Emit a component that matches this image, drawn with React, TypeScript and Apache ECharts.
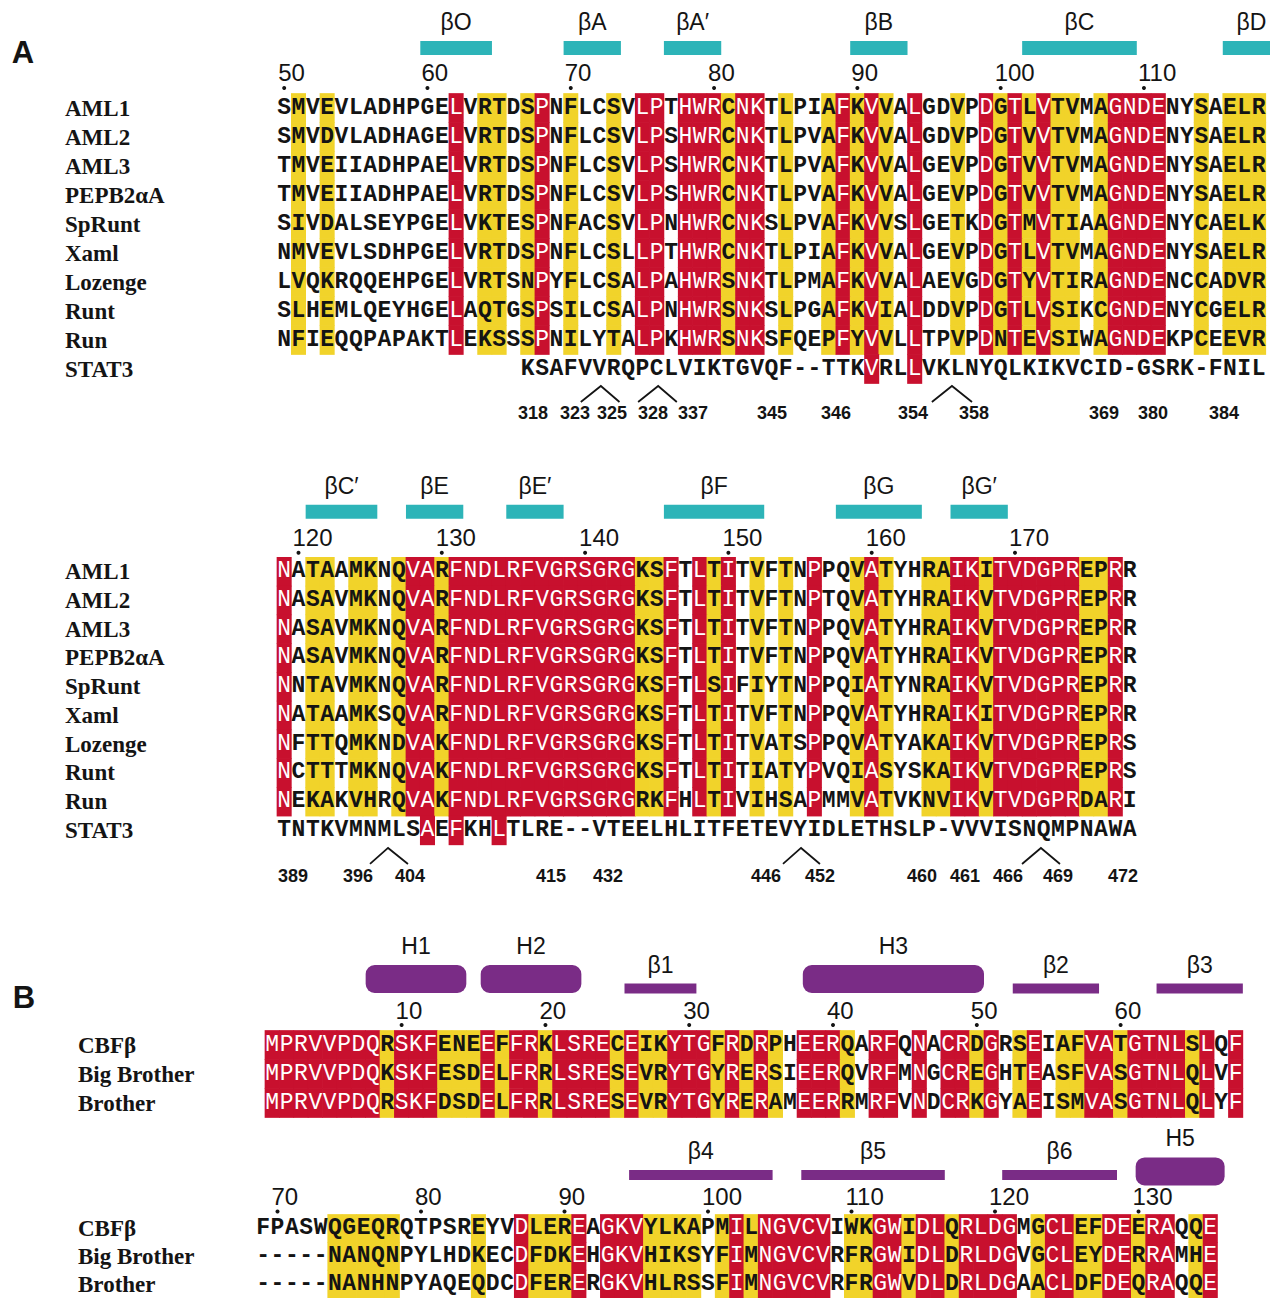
import React, { useEffect, useRef } from "react";
import * as echarts from "echarts";

// ---------------- colours & fonts ----------------
const RED = "#C8102E";
const YELLOW = "#F1D32A";
const CYAN = "#2DB4B8";
const PURPLE = "#7A2C86";
const INK = "#141414";
const MONO = '"Liberation Mono", "DejaVu Sans Mono", monospace';
const SERIF = '"Liberation Serif", "DejaVu Serif", serif';
const SANS = '"Liberation Sans", Arial, sans-serif';

// ---------------- Panel A, block 1 (residues 50-118) ----------------
const namesA = ["AML1", "AML2", "AML3", "PEPB2αA", "SpRunt", "Xaml", "Lozenge", "Runt", "Run", "STAT3"];
const seqA1 = [
  "SMVEVLADHPGELVRTDSPNFLCSVLPTHWRCNKTLPIAFKVVALGDVPDGTLVTVMAGNDENYSAELR",
  "SMVDVLADHAGELVRTDSPNFLCSVLPSHWRCNKTLPVAFKVVALGDVPDGTVVTVMAGNDENYSAELR",
  "TMVEIIADHPAELVRTDSPNFLCSVLPSHWRCNKTLPVAFKVVALGEVPDGTVVTVMAGNDENYSAELR",
  "TMVEIIADHPAELVRTDSPNFLCSVLPSHWRCNKTLPVAFKVVALGEVPDGTVVTVMAGNDENYSAELR",
  "SIVDALSEYPGELVKTESPNFACSVLPNHWRCNKSLPVAFKVVSLGETKDGTMVTIAAGNDENYCAELK",
  "NMVEVLSDHPGELVRTDSPNFLCSLLPTHWRCNKTLPIAFKVVALGEVPDGTLVTVMAGNDENYSAELR",
  "LVQKRQQEHPGELVRTSNPYFLCSALPAHWRSNKTLPMAFKVVALAEVGDGTYVTIRAGNDENCCADVR",
  "SLHEMLQEYHGELAQTGSPSILCSALPNHWRSNKSLPGAFKVIALDDVPDGTLVSIKCGNDENYCGELR",
  "NFIEQQPAPAKTLEKSSSPNILYTALPKHWRSNKSFQEPFYVVLLTPVPDNTEVSIWAGNDEKPCEEVR",
];
// r = identical (red), y = similar (yellow), . = none
const maskA1 = ".y.y......" + "..r.yy.yr." + "y..y.rr.rr" + "ryrr.y..yr" + "yry.r..y.r" + "yryryy.yrr" + "rr..y.yyy";
const firstResA1 = 50;
const ticksA1 = [50, 60, 70, 80, 90, 100, 110];
const ssA1: [string, number, number, string][] = [
  ["βO", 60, 64, "strand"],
  ["βA", 70, 73, "strand"],
  ["βA′", 77, 80, "strand"],
  ["βB", 90, 93, "strand"],
  ["βC", 102, 109, "strand"],
  ["βD", 116, 119, "strand"],
];
const stat3StartA1 = 17;
const stat3SeqA1 = "KSAFVVRQPCLVIKTGVQF--TTKVRLLVKLNYQLKIKVCID-GSRK-FNIL";
const stat3RedA1 = [41, 44];
const stat3NumA1 = ["318", "323", "325", "328", "337", "345", "346", "354", "358", "369", "380", "384"];
const stat3NumPosA1 = [17.86, 20.8, 23.38, 26.24, 29.03, 34.54, 39.01, 44.38, 48.64, 57.71, 61.13, 66.08];
const stat3GapsA1 = [[21.2, 22.6, 23.9], [25.2, 26.6, 27.9], [45.7, 47.1, 48.5]];

// ---------------- Panel A, block 2 (residues 119-178) ----------------
const seqA2 = [
  "NATAAMKNQVARFNDLRFVGRSGRGKSFTLTITVFTNPPQVATYHRAIKITVDGPREPRR",
  "NASAVMKNQVARFNDLRFVGRSGRGKSFTLTITVFTNPTQVATYHRAIKVTVDGPREPRR",
  "NASAVMKNQVARFNDLRFVGRSGRGKSFTLTITVFTNPPQVATYHRAIKVTVDGPREPRR",
  "NASAVMKNQVARFNDLRFVGRSGRGKSFTLTITVFTNPPQVATYHRAIKVTVDGPREPRR",
  "NNTAVMKNQVARFNDLRFVGRSGRGKSFTLSIFIYTNPPQIATYNRAIKVTVDGPREPRR",
  "NATAAMKSQVARFNDLRFVGRSGRGKSFTLTITVFTNPPQVATYHRAIKITVDGPREPRR",
  "NFTTQMKNDVAKFNDLRFVGRSGRGKSFTLTITVATSPPQVATYAKAIKVTVDGPREPRS",
  "NCTTTMKNQVAKFNDLRFVGRSGRGKSFTLTITIATYPVQIASYSKAIKVTVDGPREPRS",
  "NEKAKVHRQVAKFNDLRFVGRSGRGRKFHLTIVIHSAPMMVATVKNVIKVTVDGPRDARI",
];
const maskA2 = "r.yy.yy.yr" + "ryrrrrrrrr" + "rrrrryyr.r" + "yr.y.y.r.." + "yry..yyrry" + "rrrrrryyr.";
const firstResA2 = 119;
const ticksA2 = [120, 130, 140, 150, 160, 170];
const ssA2: [string, number, number, string][] = [
  ["βC′", 121, 125, "strand"],
  ["βE", 128, 131, "strand"],
  ["βE′", 135, 138, "strand"],
  ["βF", 146, 152, "strand"],
  ["βG", 158, 163, "strand"],
  ["βG′", 166, 169, "strand"],
];
const stat3StartA2 = 0;
const stat3SeqA2 = "TNTKVMNMLSAEFKHLTLRE--VTEELHLITFETEVYIDLETHSLP-VVVISNQMPNAWA";
const stat3RedA2 = [10, 12, 15];
const stat3NumA2 = ["389", "396", "404", "415", "432", "446", "452", "460", "461", "466", "469", "472"];
const stat3NumPosA2 = [1.12, 5.65, 9.28, 19.12, 23.1, 34.12, 37.89, 45.01, 48.01, 51.01, 54.5, 59.04];
const stat3GapsA2 = [[6.49, 7.75, 9.14], [35.31, 36.57, 37.89], [51.99, 53.31, 54.64]];

// ---------------- Panel B, block 1 (residues 1-68) ----------------
const namesB = ["CBFβ", "Big Brother", "Brother"];
const seqB1 = [
  "MPRVVPDQRSKFENEEFFRKLSRECEIKYTGFRDRPHEERQARFQNACRDGRSEIAFVATGTNLSLQF",
  "MPRVVPDQKSKFESDELFRRLSRESEVRYTGYRERSIEERQVRFMNGCREGHTEASFVASGTNLQLVF",
  "MPRVVPDQRSKFDSDELFRRLSRESEVRYTGYRERAMEERRMRFVNDCRKGYAEISMVASGTNLQLYF",
];
const maskB1 = "rrrrrrrryr" + "rryyyryrry" + "rrrryryyrr" + "ryryry.rrr" + "y.rr.r.rry" + "r.yr.yyrry" + "rrrryr.r";
const firstResB1 = 1;
const ticksB1 = [10, 20, 30, 40, 50, 60];
const ssB1: [string, number, number, string][] = [
  ["H1", 8, 14, "helix"],
  ["H2", 16, 22, "helix"],
  ["β1", 26, 30, "strand"],
  ["H3", 38.4, 50, "helix"],
  ["β2", 53, 58, "strand"],
  ["β3", 63, 68, "strand"],
];

// ---------------- Panel B, block 2 (residues 69-135) ----------------
const seqB2 = [
  "FPASWQGEQRQTPSREYVDLEREAGKVYLKAPMILNGVCVIWKGWIDLQRLDGMGCLEFDEERAQQE",
  "-----NANQNPYLHDKECDFDKEHGKVHIKSYFIMNGVCVRFRGWIDLDRLDGVGCLEYDERRAMHE",
  "-----NANHNPYAQEQDCDFERERGKVHLRSSFIMNGVCVRFRGWVDLDRLDGAACLDFDEQRAQQE",
];
const maskB2 = ".....yyyyy" + ".....y..ry" + "yyr.rrryyy" + "y.yryrrrrr" + ".yyrryrryr" + "rrr.yrryyr" + "ryrr.yr";
const firstResB2 = 69;
const ticksB2 = [70, 80, 90, 100, 110, 120, 130];
const ssB2: [string, number, number, string][] = [
  ["β4", 95, 104, "strand"],
  ["β5", 107, 116, "strand"],
  ["β6", 121, 128, "strand"],
  ["H5", 130.3, 135.5, "helix"],
];

// ---------------- build ----------------
type Cell = { col: number; row: number; ch: string; bg: string };

function buildCells(seqs: string[], mask: string, stat?: { start: number; seq: string; red: number[] }) {
  const cells: Cell[] = [];
  seqs.forEach((s, row) => {
    for (let i = 0; i < s.length; i++) cells.push({ col: i, row, ch: s[i], bg: mask[i] || "." });
  });
  if (stat) {
    for (let k = 0; k < stat.seq.length; k++) {
      const col = stat.start + k;
      cells.push({ col, row: seqs.length, ch: stat.seq[k], bg: stat.red.includes(col) ? "r" : "." });
    }
  }
  return cells;
}

type Layout = {
  left: number; cw: number; row0: number; rowH: number; nameLeft: number;
  barDy: number; barH: number; helixDy: number; helixH: number;
  numDy: number; dotDy: number; ssColor: string;
  chevPeak: number; chevFoot: number; statNumDy: number;
};

type Block = {
  names: string[]; N: number; cells: Cell[]; firstRes: number; ticks: number[];
  ss: [string, number, number, string][]; L: Layout;
  statNums?: string[]; statPos?: number[]; statGaps?: number[][];
};

const blocks: Block[] = [
  {
    names: namesA, N: seqA1[0].length,
    cells: buildCells(seqA1, maskA1, { start: stat3StartA1, seq: stat3SeqA1, red: stat3RedA1 }),
    firstRes: firstResA1, ticks: ticksA1, ss: ssA1,
    statNums: stat3NumA1, statPos: stat3NumPosA1, statGaps: stat3GapsA1,
    L: { left: 277, cw: 14.33, row0: 108, rowH: 29, nameLeft: 65, barDy: -60, barH: 14, helixDy: -60, helixH: 28,
      numDy: -36, dotDy: -20, ssColor: CYAN, chevPeak: 17, chevFoot: 33, statNumDy: 44 },
  },
  {
    names: namesA, N: seqA2[0].length,
    cells: buildCells(seqA2, maskA2, { start: stat3StartA2, seq: stat3SeqA2, red: stat3RedA2 }),
    firstRes: firstResA2, ticks: ticksA2, ss: ssA2,
    statNums: stat3NumA2, statPos: stat3NumPosA2, statGaps: stat3GapsA2,
    L: { left: 277, cw: 14.33, row0: 571.7, rowH: 28.75, nameLeft: 65, barDy: -60, barH: 14, helixDy: -60, helixH: 28,
      numDy: -34, dotDy: -19, ssColor: CYAN, chevPeak: 17.5, chevFoot: 33.5, statNumDy: 45.5 },
  },
  {
    names: namesB, N: seqB1[0].length, cells: buildCells(seqB1, maskB1),
    firstRes: firstResB1, ticks: ticksB1, ss: ssB1,
    L: { left: 265, cw: 14.38, row0: 1045, rowH: 29, nameLeft: 78, barDy: -56.5, barH: 10, helixDy: -66, helixH: 28,
      numDy: -35, dotDy: -20, ssColor: PURPLE, chevPeak: 0, chevFoot: 0, statNumDy: 0 },
  },
  {
    names: namesB, N: seqB2[0].length, cells: buildCells(seqB2, maskB2),
    firstRes: firstResB2, ticks: ticksB2, ss: ssB2,
    L: { left: 256, cw: 14.35, row0: 1229, rowH: 29, nameLeft: 78, barDy: -53.5, barH: 10, helixDy: -57, helixH: 28,
      numDy: -32, dotDy: -17, ssColor: PURPLE, chevPeak: 0, chevFoot: 0, statNumDy: 0 },
  },
];

function txt(x: number, y: number, text: string, font: string, fill: string, align = "center") {
  return {
    type: "text", x, y,
    style: { text, font, fill, align, verticalAlign: "middle", textAlign: align, textVerticalAlign: "middle" },
  };
}

function buildSeries() {
  const series: any[] = [];
  blocks.forEach((b, g) => {
    const L = b.L;
    const nRows = b.names.length;
    const bgCells = b.cells.filter((c) => c.bg !== ".");
    // backgrounds
    series.push({
      type: "custom", xAxisIndex: g, yAxisIndex: g, z: 2, silent: true, clip: false,
      data: bgCells.map((c) => [c.col + 0.5, c.row]),
      renderItem: (params: any, api: any) => {
        const c = bgCells[params.dataIndex];
        const p = api.coord([api.value(0), c.row]);
        const s = api.size([1, 1]);
        return {
          type: "rect",
          shape: { x: p[0] - s[0] / 2 - 0.35, y: p[1] - s[1] / 2 - 0.35, width: s[0] + 0.7, height: s[1] + 0.7 },
          style: { fill: c.bg === "r" ? RED : YELLOW },
        };
      },
    });
    // residue letters
    series.push({
      type: "custom", xAxisIndex: g, yAxisIndex: g, z: 3, silent: true, clip: false,
      data: b.cells.map((c) => [c.col + 0.5, c.row]),
      renderItem: (params: any, api: any) => {
        const c = b.cells[params.dataIndex];
        const p = api.coord([api.value(0), c.row]);
        const red = c.bg === "r";
        return txt(p[0], p[1] - 0.5, c.ch, `${red ? "normal" : "bold"} 23px ${MONO}`, red ? "#ffffff" : INK);
      },
    });
    // residue number ticks
    series.push({
      type: "custom", xAxisIndex: g, yAxisIndex: g, z: 3, silent: true, clip: false,
      data: b.ticks.map((r) => [r - b.firstRes + 0.5, 0]),
      renderItem: (params: any, api: any) => {
        const r = b.ticks[params.dataIndex];
        const p = api.coord([api.value(0), 0]);
        return {
          type: "group",
          children: [
            { type: "circle", shape: { cx: p[0], cy: p[1] + L.dotDy, r: 2 }, style: { fill: INK } },
            txt(p[0] - 6, p[1] + L.numDy, String(r), `24px ${SANS}`, INK, "left"),
          ],
        };
      },
    });
    // secondary structure
    series.push({
      type: "custom", xAxisIndex: g, yAxisIndex: g, z: 3, silent: true, clip: false,
      data: b.ss.map((s) => [s[1] - b.firstRes, 0]),
      renderItem: (params: any, api: any) => {
        const s = b.ss[params.dataIndex];
        const a = api.coord([api.value(0), 0]);
        const e = api.coord([s[2] - b.firstRes + 1, 0]);
        const helix = s[3] === "helix";
        const h = helix ? L.helixH : L.barH;
        const cy = a[1] + (helix ? L.helixDy : L.barDy);
        const top = cy - h / 2;
        return {
          type: "group",
          children: [
            {
              type: "rect",
              shape: { x: a[0], y: top, width: e[0] - a[0], height: h, r: helix ? 9 : 0 },
              style: { fill: L.ssColor },
            },
            txt((a[0] + e[0]) / 2, top - 19, s[0], `23px ${SANS}`, INK),
          ],
        };
      },
    });
    // STAT3 residue numbers and insertion marks
    if (b.statNums && b.statPos && b.statGaps) {
      const nums = b.statNums;
      const gaps = b.statGaps;
      series.push({
        type: "custom", xAxisIndex: g, yAxisIndex: g, z: 3, silent: true, clip: false,
        data: b.statPos.map((x) => [x, nRows - 1]),
        renderItem: (params: any, api: any) => {
          const p = api.coord([api.value(0), nRows - 1]);
          return txt(p[0], p[1] + L.statNumDy, nums[params.dataIndex], `bold 18px ${SANS}`, INK);
        },
      });
      series.push({
        type: "custom", xAxisIndex: g, yAxisIndex: g, z: 3, silent: true, clip: false,
        data: gaps.map((q) => [q[0], nRows - 1]),
        renderItem: (params: any, api: any) => {
          const q = gaps[params.dataIndex];
          const a = api.coord([q[0], nRows - 1]);
          const m = api.coord([q[1], nRows - 1]);
          const c = api.coord([q[2], nRows - 1]);
          return {
            type: "polyline",
            shape: { points: [[a[0], a[1] + L.chevFoot], [m[0], m[1] + L.chevPeak], [c[0], c[1] + L.chevFoot]] },
            style: { stroke: INK, lineWidth: 1.8, fill: "none" },
          };
        },
      });
    }
  });
  return series;
}

export default function App() {
  const ref = useRef<HTMLDivElement>(null);
  useEffect(() => {
    document.body.style.margin = "0";
    document.body.style.overflow = "hidden";
    if (!ref.current) return;
    const chart = echarts.init(ref.current, undefined, { renderer: "svg" });
    const option: any = {
      animation: false,
      backgroundColor: "#ffffff",
      graphic: [
        { type: "text", x: 23, y: 52, style: { text: "A", font: `bold 31px ${SANS}`, fill: INK, align: "center", verticalAlign: "middle", textAlign: "center", textVerticalAlign: "middle" } },
        { type: "text", x: 24, y: 997, style: { text: "B", font: `bold 31px ${SANS}`, fill: INK, align: "center", verticalAlign: "middle", textAlign: "center", textVerticalAlign: "middle" } },
      ],
      grid: blocks.map((b) => ({
        left: b.L.left,
        top: b.L.row0 - b.L.rowH / 2,
        width: b.N * b.L.cw,
        height: b.names.length * b.L.rowH,
        containLabel: false,
      })),
      xAxis: blocks.map((b, i) => ({ gridIndex: i, type: "value", min: 0, max: b.N, show: false })),
      yAxis: blocks.map((b, i) => ({
        gridIndex: i,
        type: "category",
        data: b.names,
        inverse: true,
        axisLine: { show: false },
        axisTick: { show: false },
        splitLine: { show: false },
        axisLabel: {
          interval: 0,
          margin: b.L.left - b.L.nameLeft,
          align: "left",
          fontFamily: SERIF,
          fontWeight: "bold",
          fontSize: 23,
          color: INK,
        },
      })),
      series: buildSeries(),
    };
    chart.setOption(option);
    return () => chart.dispose();
  }, []);
  return <div ref={ref} style={{ width: 1270, height: 1298 }} />;
}
